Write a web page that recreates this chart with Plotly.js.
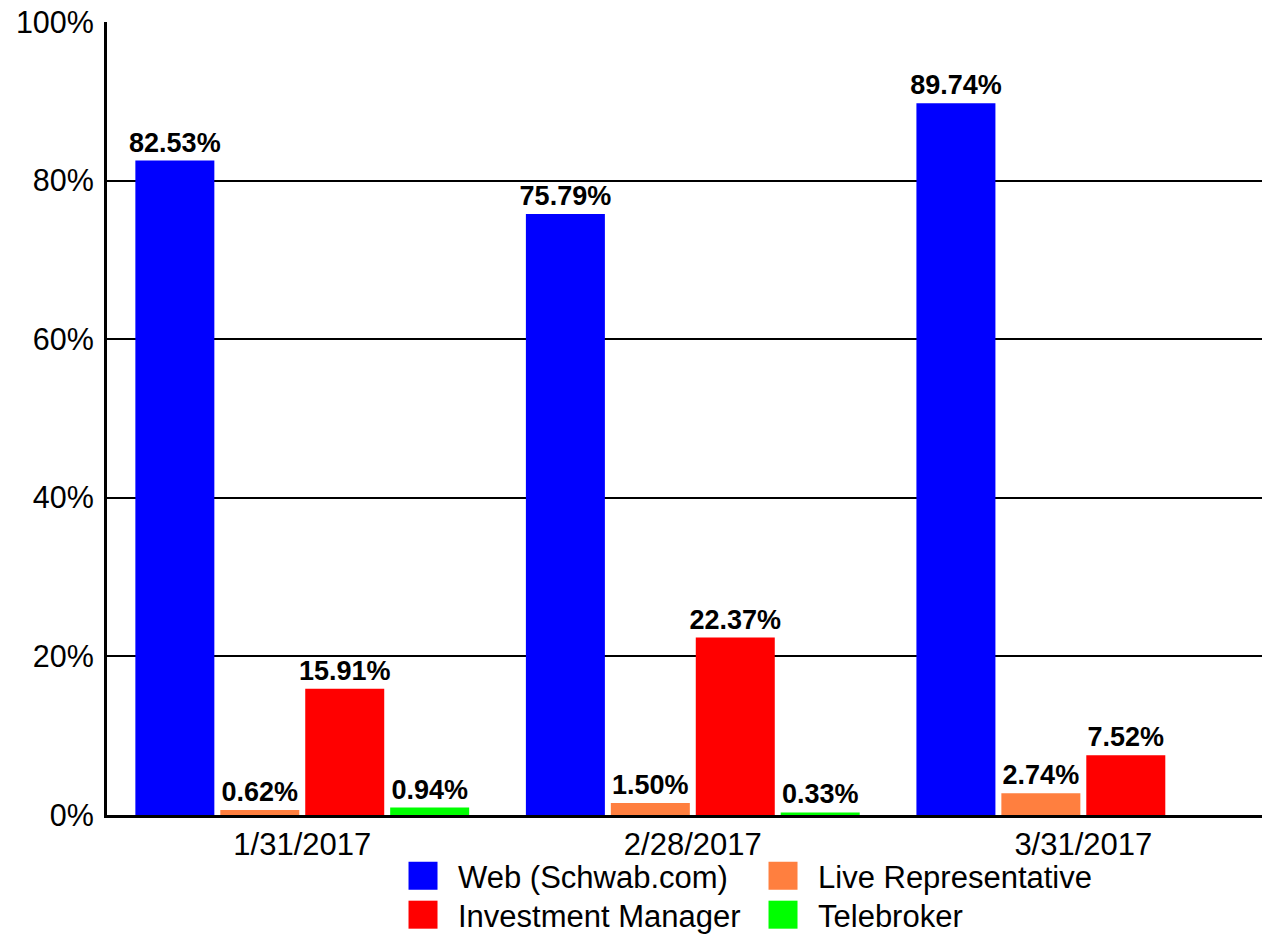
<!DOCTYPE html>
<html>
<head>
<meta charset="utf-8">
<script src="https://cdn.plot.ly/plotly-3.0.1.min.js"></script>
<style>html,body{margin:0;padding:0;background:#fff;overflow:hidden}</style>
</head>
<body>
<div id="chart" style="width:1262px;height:935px"></div>
<script>
var categories = ["1/31/2017", "2/28/2017", "3/31/2017"];
var seriesNames = ["Web (Schwab.com)", "Live Representative", "Investment Manager", "Telebroker"];
var webValues = [82.53, 75.79, 89.74];
var liveValues = [0.62, 1.50, 2.74];
var imValues = [15.91, 22.37, 7.52];
var teleValues = [0.94, 0.33, null];
var colors = ["#0000ff", "#ff7f3f", "#ff0000", "#00ff00"];
var legendIds = ["legend", "legend", "legend2", "legend2"];

var allValues = [webValues, liveValues, imValues, teleValues];
var traces = [];
allValues.forEach(function (vals, i) {
  traces.push({
    type: "bar",
    name: seriesNames[i],
    x: categories,
    y: vals,
    marker: {color: colors[i], line: {width: 0}},
    texttemplate: "%{y:.2f}%",
    textposition: "outside",
    constraintext: "none",
    cliponaxis: false,
    textfont: {family: "Liberation Sans, Arial, sans-serif", size: 27, color: "#000", weight: "bold"},
    showlegend: false,
    hoverinfo: "skip"
  });
});
// legend-only entries (on a hidden axis pair so they do not affect grouping)
allValues.forEach(function (vals, i) {
  traces.push({
    type: "bar",
    name: seriesNames[i],
    x: [null],
    y: [null],
    xaxis: "x2",
    yaxis: "y2",
    marker: {color: colors[i], line: {width: 0}},
    legend: legendIds[i],
    showlegend: true,
    hoverinfo: "skip"
  });
});

var font = {family: "Liberation Sans, Arial, sans-serif", size: 31, color: "#000"};
var yfont = {family: "Liberation Sans, Arial, sans-serif", size: 30.5, color: "#000"};
var layout = {
  width: 1262,
  height: 935,
  margin: {l: 107, r: 0, t: 22, b: 120, autoexpand: false},
  paper_bgcolor: "#fff",
  plot_bgcolor: "#fff",
  font: font,
  barmode: "group",
  bargap: 0.13,
  bargroupgap: 0.07,
  xaxis: {
    type: "category",
    range: [-0.5, 2.4575],
    showline: true,
    linecolor: "#000",
    linewidth: 3,
    showgrid: false,
    ticks: "",
    tickfont: font,
    fixedrange: true
  },
  yaxis: {
    range: [0, 100],
    dtick: 20,
    ticksuffix: "%",
    showline: true,
    linecolor: "#000",
    linewidth: 3,
    showgrid: true,
    gridcolor: "#000",
    gridwidth: 2,
    zeroline: false,
    ticks: "outside",
    ticklen: 4,
    tickwidth: 1,
    tickcolor: "rgba(0,0,0,0)",
    tickfont: yfont,
    fixedrange: true
  },
  xaxis2: {visible: false, overlaying: "x", range: [0, 1]},
  yaxis2: {visible: false, overlaying: "y", range: [0, 1]},
  legend: {
    orientation: "h",
    x: 0.2433, xanchor: "left",
    y: -0.043, yanchor: "top",
    itemwidth: 60,
    entrywidth: 285,
    font: font,
    bgcolor: "rgba(0,0,0,0)",
    traceorder: "normal"
  },
  legend2: {
    orientation: "h",
    x: 0.2433, xanchor: "left",
    y: -0.0921, yanchor: "top",
    itemwidth: 60,
    entrywidth: 285,
    font: font,
    bgcolor: "rgba(0,0,0,0)",
    traceorder: "normal"
  },
  showlegend: true
};

Plotly.newPlot("chart", traces, layout, {displayModeBar: false, staticPlot: true}).then(function (gd) {
  // enlarge the legend swatches to match the reference's square keys
  var paths = gd.querySelectorAll(".legendpoints path");
  paths.forEach(function (p) { p.setAttribute("d", "M14.5,14H-14.5V-14H14.5Z"); });
});
</script>
</body>
</html>
